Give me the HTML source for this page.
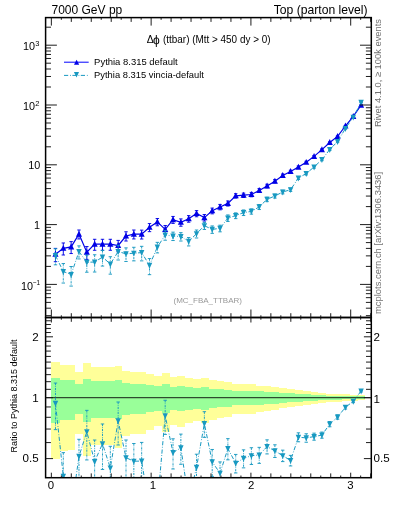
<!DOCTYPE html><html><head><meta charset="utf-8"><style>html,body{margin:0;padding:0;background:#fff;}svg{display:block;}text{font-family:"Liberation Sans",sans-serif;}</style></head><body>
<svg width="393" height="512" viewBox="0 0 393 512" style="will-change:transform">
<defs><clipPath id="cm"><rect x="45.60" y="17.60" width="325.70" height="299.90"/></clipPath>
<clipPath id="cr"><rect x="45.60" y="317.50" width="325.70" height="160.20"/></clipPath></defs>
<g clip-path="url(#cr)">
<path d="M51.35 362.00 L59.79 362.00 L59.79 364.80 L67.62 364.80 L67.62 365.00 L75.46 365.00 L75.46 371.90 L83.30 371.90 L83.30 363.00 L91.13 363.00 L91.13 367.10 L98.97 367.10 L98.97 367.10 L106.81 367.10 L106.81 367.10 L114.64 367.10 L114.64 366.10 L122.48 366.10 L122.48 371.20 L130.32 371.20 L130.32 372.00 L138.15 372.00 L138.15 372.10 L145.99 372.10 L145.99 374.10 L153.83 374.10 L153.83 376.20 L161.66 376.20 L161.66 373.00 L169.50 373.00 L169.50 376.90 L177.34 376.90 L177.34 376.00 L185.17 376.00 L185.17 378.00 L193.01 378.00 L193.01 379.10 L200.85 379.10 L200.85 378.00 L208.68 378.00 L208.68 380.20 L216.52 380.20 L216.52 381.20 L224.36 381.20 L224.36 382.10 L232.19 382.10 L232.19 384.10 L240.03 384.10 L240.03 384.10 L247.87 384.10 L247.87 384.10 L255.70 384.10 L255.70 385.50 L263.54 385.50 L263.54 386.20 L271.38 386.20 L271.38 386.90 L279.21 386.90 L279.21 388.20 L287.05 388.20 L287.05 389.30 L294.89 389.30 L294.89 390.30 L302.72 390.30 L302.72 391.00 L310.56 391.00 L310.56 391.90 L318.40 391.90 L318.40 393.00 L326.23 393.00 L326.23 393.50 L334.07 393.50 L334.07 394.00 L341.91 394.00 L341.91 394.40 L349.74 394.40 L349.74 394.80 L357.58 394.80 L357.58 395.20 L364.82 395.20 L364.82 400.27 L357.58 400.27 L357.58 400.70 L349.74 400.70 L349.74 401.13 L341.91 401.13 L341.91 401.56 L334.07 401.56 L334.07 402.11 L326.23 402.11 L326.23 402.67 L318.40 402.67 L318.40 403.91 L310.56 403.91 L310.56 404.95 L302.72 404.95 L302.72 405.78 L294.89 405.78 L294.89 406.99 L287.05 406.99 L287.05 408.35 L279.21 408.35 L279.21 410.02 L271.38 410.02 L271.38 410.94 L263.54 410.94 L263.54 411.87 L255.70 411.87 L255.70 413.80 L247.87 413.80 L247.87 413.80 L240.03 413.80 L240.03 413.80 L232.19 413.80 L232.19 416.68 L224.36 416.68 L224.36 418.03 L216.52 418.03 L216.52 419.58 L208.68 419.58 L208.68 423.13 L200.85 423.13 L200.85 421.33 L193.01 421.33 L193.01 423.13 L185.17 423.13 L185.17 426.58 L177.34 426.58 L177.34 425.00 L169.50 425.00 L169.50 432.18 L161.66 432.18 L161.66 426.23 L153.83 426.23 L153.83 430.07 L145.99 430.07 L145.99 433.98 L138.15 433.98 L138.15 434.18 L130.32 434.18 L130.32 435.83 L122.48 435.83 L122.48 447.53 L114.64 447.53 L114.64 445.05 L106.81 445.05 L106.81 445.05 L98.97 445.05 L98.97 445.05 L91.13 445.05 L91.13 455.89 L83.30 455.89 L83.30 434.38 L75.46 434.38 L75.46 450.37 L67.62 450.37 L67.62 450.90 L59.79 450.90 L59.79 458.83 L51.35 458.83 Z" fill="#ffff99" shape-rendering="crispEdges"/>
<path d="M51.35 378.05 L59.79 378.05 L59.79 379.72 L67.62 379.72 L67.62 379.84 L75.46 379.84 L75.46 383.86 L83.30 383.86 L83.30 378.65 L91.13 378.65 L91.13 381.07 L98.97 381.07 L98.97 381.07 L106.81 381.07 L106.81 381.07 L114.64 381.07 L114.64 380.49 L122.48 380.49 L122.48 383.45 L130.32 383.45 L130.32 383.91 L138.15 383.91 L138.15 383.97 L145.99 383.97 L145.99 385.11 L153.83 385.11 L153.83 386.29 L161.66 386.29 L161.66 384.48 L169.50 384.48 L169.50 386.69 L177.34 386.69 L177.34 386.18 L185.17 386.18 L185.17 387.30 L193.01 387.30 L193.01 387.91 L200.85 387.91 L200.85 387.30 L208.68 387.30 L208.68 388.51 L216.52 388.51 L216.52 389.06 L224.36 389.06 L224.36 389.55 L232.19 389.55 L232.19 390.64 L240.03 390.64 L240.03 390.64 L247.87 390.64 L247.87 390.64 L255.70 390.64 L255.70 391.39 L263.54 391.39 L263.54 391.76 L271.38 391.76 L271.38 392.13 L279.21 392.13 L279.21 392.82 L287.05 392.82 L287.05 393.40 L294.89 393.40 L294.89 393.92 L302.72 393.92 L302.72 394.29 L310.56 394.29 L310.56 394.75 L318.40 394.75 L318.40 395.32 L326.23 395.32 L326.23 395.57 L334.07 395.57 L334.07 395.83 L341.91 395.83 L341.91 396.03 L349.74 396.03 L349.74 396.24 L357.58 396.24 L357.58 396.44 L364.82 396.44 L364.82 398.98 L357.58 398.98 L357.58 399.19 L349.74 399.19 L349.74 399.40 L341.91 399.40 L341.91 399.61 L334.07 399.61 L334.07 399.88 L326.23 399.88 L326.23 400.15 L318.40 400.15 L318.40 400.75 L310.56 400.75 L310.56 401.25 L302.72 401.25 L302.72 401.65 L294.89 401.65 L294.89 402.22 L287.05 402.22 L287.05 402.87 L279.21 402.87 L279.21 403.64 L271.38 403.64 L271.38 404.07 L263.54 404.07 L263.54 404.50 L255.70 404.50 L255.70 405.38 L247.87 405.38 L247.87 405.38 L240.03 405.38 L240.03 405.38 L232.19 405.38 L232.19 406.68 L224.36 406.68 L224.36 407.28 L216.52 407.28 L216.52 407.96 L208.68 407.96 L208.68 409.50 L200.85 409.50 L200.85 408.72 L193.01 408.72 L193.01 409.50 L185.17 409.50 L185.17 410.96 L177.34 410.96 L177.34 410.30 L169.50 410.30 L169.50 413.26 L161.66 413.26 L161.66 410.81 L153.83 410.81 L153.83 412.40 L145.99 412.40 L145.99 413.98 L138.15 413.98 L138.15 414.06 L130.32 414.06 L130.32 414.71 L122.48 414.71 L122.48 419.13 L114.64 419.13 L114.64 418.22 L106.81 418.22 L106.81 418.22 L98.97 418.22 L98.97 418.22 L91.13 418.22 L91.13 422.06 L83.30 422.06 L83.30 414.14 L75.46 414.14 L75.46 420.15 L67.62 420.15 L67.62 420.33 L59.79 420.33 L59.79 423.05 L51.35 423.05 Z" fill="#99ff99" shape-rendering="crispEdges"/>
<line x1="45.60" y1="397.70" x2="371.30" y2="397.70" stroke="#000" stroke-opacity="0.7" stroke-width="1.3"/>
</g>
<g clip-path="url(#cr)">
<polyline points="55.47,403.30 63.31,476.30 71.14,511.30 78.98,456.40 86.82,431.70 94.65,461.50 102.49,443.80 110.33,468.00 118.16,420.90 126.00,457.70 133.84,461.20 141.67,461.10 149.51,510.20 157.35,505.20 165.18,415.70 173.02,452.60 180.86,447.90 188.69,500.20 196.53,467.40 204.37,423.60 212.20,461.90 220.04,473.20 227.88,448.60 235.71,463.20 243.55,458.40 251.39,455.70 259.22,455.00 267.06,446.60 274.90,450.90 282.73,455.70 290.57,460.50 298.41,437.20 306.24,437.90 314.08,436.60 321.92,435.10 329.75,424.10 337.59,417.00 345.43,407.30 353.26,401.30 361.10,391.10" fill="none" stroke="#1899c1" stroke-width="1.0" stroke-dasharray="4.2 1.9 0.8 1.5"/>
<line x1="55.47" y1="383.06" x2="55.47" y2="429.64" stroke="#1899c1" stroke-width="0.95" stroke-dasharray="2.2 1 0.7 1"/><line x1="53.77" y1="383.06" x2="57.17" y2="383.06" stroke="#1899c1" stroke-width="0.95"/><line x1="53.77" y1="429.64" x2="57.17" y2="429.64" stroke="#1899c1" stroke-width="0.95"/>
<path d="M55.47 406.70 L58.19 400.75 L52.75 400.75 Z" fill="#1899c1"/>
<line x1="63.31" y1="452.64" x2="63.31" y2="508.77" stroke="#1899c1" stroke-width="0.95" stroke-dasharray="2.2 1 0.7 1"/><line x1="61.61" y1="452.64" x2="65.01" y2="452.64" stroke="#1899c1" stroke-width="0.95"/><line x1="61.61" y1="508.77" x2="65.01" y2="508.77" stroke="#1899c1" stroke-width="0.95"/>
<path d="M63.31 479.70 L66.03 473.75 L60.59 473.75 Z" fill="#1899c1"/>
<line x1="71.14" y1="487.58" x2="71.14" y2="543.90" stroke="#1899c1" stroke-width="0.95" stroke-dasharray="2.2 1 0.7 1"/><line x1="69.44" y1="487.58" x2="72.84" y2="487.58" stroke="#1899c1" stroke-width="0.95"/><line x1="69.44" y1="543.90" x2="72.84" y2="543.90" stroke="#1899c1" stroke-width="0.95"/>
<path d="M71.14 514.70 L73.86 508.75 L68.42 508.75 Z" fill="#1899c1"/>
<line x1="78.98" y1="439.29" x2="78.98" y2="477.67" stroke="#1899c1" stroke-width="0.95" stroke-dasharray="2.2 1 0.7 1"/><line x1="77.28" y1="439.29" x2="80.68" y2="439.29" stroke="#1899c1" stroke-width="0.95"/><line x1="77.28" y1="477.67" x2="80.68" y2="477.67" stroke="#1899c1" stroke-width="0.95"/>
<path d="M78.98 459.80 L81.70 453.85 L76.26 453.85 Z" fill="#1899c1"/>
<line x1="86.82" y1="410.36" x2="86.82" y2="459.95" stroke="#1899c1" stroke-width="0.95" stroke-dasharray="2.2 1 0.7 1"/><line x1="85.12" y1="410.36" x2="88.52" y2="410.36" stroke="#1899c1" stroke-width="0.95"/><line x1="85.12" y1="459.95" x2="88.52" y2="459.95" stroke="#1899c1" stroke-width="0.95"/>
<path d="M86.82 435.10 L89.54 429.15 L84.10 429.15 Z" fill="#1899c1"/>
<line x1="94.65" y1="440.02" x2="94.65" y2="490.00" stroke="#1899c1" stroke-width="0.95" stroke-dasharray="2.2 1 0.7 1"/><line x1="92.95" y1="440.02" x2="96.35" y2="440.02" stroke="#1899c1" stroke-width="0.95"/><line x1="92.95" y1="490.00" x2="96.35" y2="490.00" stroke="#1899c1" stroke-width="0.95"/>
<path d="M94.65 464.90 L97.37 458.95 L91.93 458.95 Z" fill="#1899c1"/>
<line x1="102.49" y1="423.98" x2="102.49" y2="469.43" stroke="#1899c1" stroke-width="0.95" stroke-dasharray="2.2 1 0.7 1"/><line x1="100.79" y1="423.98" x2="104.19" y2="423.98" stroke="#1899c1" stroke-width="0.95"/><line x1="100.79" y1="469.43" x2="104.19" y2="469.43" stroke="#1899c1" stroke-width="0.95"/>
<path d="M102.49 447.20 L105.21 441.25 L99.77 441.25 Z" fill="#1899c1"/>
<line x1="110.33" y1="446.31" x2="110.33" y2="496.86" stroke="#1899c1" stroke-width="0.95" stroke-dasharray="2.2 1 0.7 1"/><line x1="108.63" y1="446.31" x2="112.03" y2="446.31" stroke="#1899c1" stroke-width="0.95"/><line x1="108.63" y1="496.86" x2="112.03" y2="496.86" stroke="#1899c1" stroke-width="0.95"/>
<path d="M110.33 471.40 L113.05 465.45 L107.61 465.45 Z" fill="#1899c1"/>
<line x1="118.16" y1="402.00" x2="118.16" y2="445.01" stroke="#1899c1" stroke-width="0.95" stroke-dasharray="2.2 1 0.7 1"/><line x1="116.46" y1="402.00" x2="119.86" y2="402.00" stroke="#1899c1" stroke-width="0.95"/><line x1="116.46" y1="445.01" x2="119.86" y2="445.01" stroke="#1899c1" stroke-width="0.95"/>
<path d="M118.16 424.30 L120.88 418.35 L115.44 418.35 Z" fill="#1899c1"/>
<line x1="126.00" y1="440.01" x2="126.00" y2="479.87" stroke="#1899c1" stroke-width="0.95" stroke-dasharray="2.2 1 0.7 1"/><line x1="124.30" y1="440.01" x2="127.70" y2="440.01" stroke="#1899c1" stroke-width="0.95"/><line x1="124.30" y1="479.87" x2="127.70" y2="479.87" stroke="#1899c1" stroke-width="0.95"/>
<path d="M126.00 461.10 L128.72 455.15 L123.28 455.15 Z" fill="#1899c1"/>
<line x1="133.84" y1="443.51" x2="133.84" y2="483.37" stroke="#1899c1" stroke-width="0.95" stroke-dasharray="2.2 1 0.7 1"/><line x1="132.14" y1="443.51" x2="135.54" y2="443.51" stroke="#1899c1" stroke-width="0.95"/><line x1="132.14" y1="483.37" x2="135.54" y2="483.37" stroke="#1899c1" stroke-width="0.95"/>
<path d="M133.84 464.60 L136.56 458.65 L131.12 458.65 Z" fill="#1899c1"/>
<line x1="141.67" y1="442.41" x2="141.67" y2="484.87" stroke="#1899c1" stroke-width="0.95" stroke-dasharray="2.2 1 0.7 1"/><line x1="139.97" y1="442.41" x2="143.37" y2="442.41" stroke="#1899c1" stroke-width="0.95"/><line x1="139.97" y1="484.87" x2="143.37" y2="484.87" stroke="#1899c1" stroke-width="0.95"/>
<path d="M141.67 464.50 L144.39 458.55 L138.95 458.55 Z" fill="#1899c1"/>
<line x1="149.51" y1="489.90" x2="149.51" y2="536.65" stroke="#1899c1" stroke-width="0.95" stroke-dasharray="2.2 1 0.7 1"/><line x1="147.81" y1="489.90" x2="151.21" y2="489.90" stroke="#1899c1" stroke-width="0.95"/><line x1="147.81" y1="536.65" x2="151.21" y2="536.65" stroke="#1899c1" stroke-width="0.95"/>
<path d="M149.51 513.60 L152.23 507.65 L146.79 507.65 Z" fill="#1899c1"/>
<line x1="157.35" y1="488.45" x2="157.35" y2="525.91" stroke="#1899c1" stroke-width="0.95" stroke-dasharray="2.2 1 0.7 1"/><line x1="155.65" y1="488.45" x2="159.05" y2="488.45" stroke="#1899c1" stroke-width="0.95"/><line x1="155.65" y1="525.91" x2="159.05" y2="525.91" stroke="#1899c1" stroke-width="0.95"/>
<path d="M157.35 508.60 L160.07 502.65 L154.63 502.65 Z" fill="#1899c1"/>
<line x1="165.18" y1="400.27" x2="165.18" y2="434.43" stroke="#1899c1" stroke-width="0.95" stroke-dasharray="2.2 1 0.7 1"/><line x1="163.48" y1="400.27" x2="166.88" y2="400.27" stroke="#1899c1" stroke-width="0.95"/><line x1="163.48" y1="434.43" x2="166.88" y2="434.43" stroke="#1899c1" stroke-width="0.95"/>
<path d="M165.18 419.10 L167.90 413.15 L162.46 413.15 Z" fill="#1899c1"/>
<line x1="173.02" y1="438.81" x2="173.02" y2="468.97" stroke="#1899c1" stroke-width="0.95" stroke-dasharray="2.2 1 0.7 1"/><line x1="171.32" y1="438.81" x2="174.72" y2="438.81" stroke="#1899c1" stroke-width="0.95"/><line x1="171.32" y1="468.97" x2="174.72" y2="468.97" stroke="#1899c1" stroke-width="0.95"/>
<path d="M173.02 456.00 L175.74 450.05 L170.30 450.05 Z" fill="#1899c1"/>
<line x1="180.86" y1="434.11" x2="180.86" y2="464.27" stroke="#1899c1" stroke-width="0.95" stroke-dasharray="2.2 1 0.7 1"/><line x1="179.16" y1="434.11" x2="182.56" y2="434.11" stroke="#1899c1" stroke-width="0.95"/><line x1="179.16" y1="464.27" x2="182.56" y2="464.27" stroke="#1899c1" stroke-width="0.95"/>
<path d="M180.86 451.30 L183.58 445.35 L178.14 445.35 Z" fill="#1899c1"/>
<line x1="188.69" y1="486.41" x2="188.69" y2="516.57" stroke="#1899c1" stroke-width="0.95" stroke-dasharray="2.2 1 0.7 1"/><line x1="186.99" y1="486.41" x2="190.39" y2="486.41" stroke="#1899c1" stroke-width="0.95"/><line x1="186.99" y1="516.57" x2="190.39" y2="516.57" stroke="#1899c1" stroke-width="0.95"/>
<path d="M188.69 503.60 L191.41 497.65 L185.97 497.65 Z" fill="#1899c1"/>
<line x1="196.53" y1="454.21" x2="196.53" y2="482.93" stroke="#1899c1" stroke-width="0.95" stroke-dasharray="2.2 1 0.7 1"/><line x1="194.83" y1="454.21" x2="198.23" y2="454.21" stroke="#1899c1" stroke-width="0.95"/><line x1="194.83" y1="482.93" x2="198.23" y2="482.93" stroke="#1899c1" stroke-width="0.95"/>
<path d="M196.53 470.80 L199.25 464.85 L193.81 464.85 Z" fill="#1899c1"/>
<line x1="204.37" y1="411.70" x2="204.37" y2="437.36" stroke="#1899c1" stroke-width="0.95" stroke-dasharray="2.2 1 0.7 1"/><line x1="202.67" y1="411.70" x2="206.07" y2="411.70" stroke="#1899c1" stroke-width="0.95"/><line x1="202.67" y1="437.36" x2="206.07" y2="437.36" stroke="#1899c1" stroke-width="0.95"/>
<path d="M204.37 427.00 L207.09 421.05 L201.65 421.05 Z" fill="#1899c1"/>
<line x1="212.20" y1="449.47" x2="212.20" y2="476.39" stroke="#1899c1" stroke-width="0.95" stroke-dasharray="2.2 1 0.7 1"/><line x1="210.50" y1="449.47" x2="213.90" y2="449.47" stroke="#1899c1" stroke-width="0.95"/><line x1="210.50" y1="476.39" x2="213.90" y2="476.39" stroke="#1899c1" stroke-width="0.95"/>
<path d="M212.20 465.30 L214.92 459.35 L209.48 459.35 Z" fill="#1899c1"/>
<line x1="220.04" y1="461.92" x2="220.04" y2="486.15" stroke="#1899c1" stroke-width="0.95" stroke-dasharray="2.2 1 0.7 1"/><line x1="218.34" y1="461.92" x2="221.74" y2="461.92" stroke="#1899c1" stroke-width="0.95"/><line x1="218.34" y1="486.15" x2="221.74" y2="486.15" stroke="#1899c1" stroke-width="0.95"/>
<path d="M220.04 476.60 L222.76 470.65 L217.32 470.65 Z" fill="#1899c1"/>
<line x1="227.88" y1="438.64" x2="227.88" y2="459.83" stroke="#1899c1" stroke-width="0.95" stroke-dasharray="2.2 1 0.7 1"/><line x1="226.18" y1="438.64" x2="229.58" y2="438.64" stroke="#1899c1" stroke-width="0.95"/><line x1="226.18" y1="459.83" x2="229.58" y2="459.83" stroke="#1899c1" stroke-width="0.95"/>
<path d="M227.88 452.00 L230.60 446.05 L225.16 446.05 Z" fill="#1899c1"/>
<line x1="235.71" y1="454.43" x2="235.71" y2="472.95" stroke="#1899c1" stroke-width="0.95" stroke-dasharray="2.2 1 0.7 1"/><line x1="234.01" y1="454.43" x2="237.41" y2="454.43" stroke="#1899c1" stroke-width="0.95"/><line x1="234.01" y1="472.95" x2="237.41" y2="472.95" stroke="#1899c1" stroke-width="0.95"/>
<path d="M235.71 466.60 L238.43 460.65 L232.99 460.65 Z" fill="#1899c1"/>
<line x1="243.55" y1="449.87" x2="243.55" y2="467.85" stroke="#1899c1" stroke-width="0.95" stroke-dasharray="2.2 1 0.7 1"/><line x1="241.85" y1="449.87" x2="245.25" y2="449.87" stroke="#1899c1" stroke-width="0.95"/><line x1="241.85" y1="467.85" x2="245.25" y2="467.85" stroke="#1899c1" stroke-width="0.95"/>
<path d="M243.55 461.80 L246.27 455.85 L240.83 455.85 Z" fill="#1899c1"/>
<line x1="251.39" y1="447.73" x2="251.39" y2="464.47" stroke="#1899c1" stroke-width="0.95" stroke-dasharray="2.2 1 0.7 1"/><line x1="249.69" y1="447.73" x2="253.09" y2="447.73" stroke="#1899c1" stroke-width="0.95"/><line x1="249.69" y1="464.47" x2="253.09" y2="464.47" stroke="#1899c1" stroke-width="0.95"/>
<path d="M251.39 459.10 L254.11 453.15 L248.67 453.15 Z" fill="#1899c1"/>
<line x1="259.22" y1="447.35" x2="259.22" y2="463.38" stroke="#1899c1" stroke-width="0.95" stroke-dasharray="2.2 1 0.7 1"/><line x1="257.52" y1="447.35" x2="260.92" y2="447.35" stroke="#1899c1" stroke-width="0.95"/><line x1="257.52" y1="463.38" x2="260.92" y2="463.38" stroke="#1899c1" stroke-width="0.95"/>
<path d="M259.22 458.40 L261.94 452.45 L256.50 452.45 Z" fill="#1899c1"/>
<line x1="267.06" y1="439.84" x2="267.06" y2="453.93" stroke="#1899c1" stroke-width="0.95" stroke-dasharray="2.2 1 0.7 1"/><line x1="265.36" y1="439.84" x2="268.76" y2="439.84" stroke="#1899c1" stroke-width="0.95"/><line x1="265.36" y1="453.93" x2="268.76" y2="453.93" stroke="#1899c1" stroke-width="0.95"/>
<path d="M267.06 450.00 L269.78 444.05 L264.34 444.05 Z" fill="#1899c1"/>
<line x1="274.90" y1="444.79" x2="274.90" y2="457.47" stroke="#1899c1" stroke-width="0.95" stroke-dasharray="2.2 1 0.7 1"/><line x1="273.20" y1="444.79" x2="276.60" y2="444.79" stroke="#1899c1" stroke-width="0.95"/><line x1="273.20" y1="457.47" x2="276.60" y2="457.47" stroke="#1899c1" stroke-width="0.95"/>
<path d="M274.90 454.30 L277.62 448.35 L272.18 448.35 Z" fill="#1899c1"/>
<line x1="282.73" y1="450.17" x2="282.73" y2="461.60" stroke="#1899c1" stroke-width="0.95" stroke-dasharray="2.2 1 0.7 1"/><line x1="281.03" y1="450.17" x2="284.43" y2="450.17" stroke="#1899c1" stroke-width="0.95"/><line x1="281.03" y1="461.60" x2="284.43" y2="461.60" stroke="#1899c1" stroke-width="0.95"/>
<path d="M282.73 459.10 L285.45 453.15 L280.01 453.15 Z" fill="#1899c1"/>
<line x1="290.57" y1="455.38" x2="290.57" y2="465.94" stroke="#1899c1" stroke-width="0.95" stroke-dasharray="2.2 1 0.7 1"/><line x1="288.87" y1="455.38" x2="292.27" y2="455.38" stroke="#1899c1" stroke-width="0.95"/><line x1="288.87" y1="465.94" x2="292.27" y2="465.94" stroke="#1899c1" stroke-width="0.95"/>
<path d="M290.57 463.90 L293.29 457.95 L287.85 457.95 Z" fill="#1899c1"/>
<line x1="298.41" y1="432.83" x2="298.41" y2="441.80" stroke="#1899c1" stroke-width="0.95" stroke-dasharray="2.2 1 0.7 1"/><line x1="296.71" y1="432.83" x2="300.11" y2="432.83" stroke="#1899c1" stroke-width="0.95"/><line x1="296.71" y1="441.80" x2="300.11" y2="441.80" stroke="#1899c1" stroke-width="0.95"/>
<path d="M298.41 440.60 L301.13 434.65 L295.69 434.65 Z" fill="#1899c1"/>
<line x1="306.24" y1="433.78" x2="306.24" y2="442.22" stroke="#1899c1" stroke-width="0.95" stroke-dasharray="2.2 1 0.7 1"/><line x1="304.54" y1="433.78" x2="307.94" y2="433.78" stroke="#1899c1" stroke-width="0.95"/><line x1="304.54" y1="442.22" x2="307.94" y2="442.22" stroke="#1899c1" stroke-width="0.95"/>
<path d="M306.24 441.30 L308.96 435.35 L303.52 435.35 Z" fill="#1899c1"/>
<line x1="314.08" y1="433.15" x2="314.08" y2="440.19" stroke="#1899c1" stroke-width="0.95" stroke-dasharray="2.2 1 0.7 1"/><line x1="312.38" y1="433.15" x2="315.78" y2="433.15" stroke="#1899c1" stroke-width="0.95"/><line x1="312.38" y1="440.19" x2="315.78" y2="440.19" stroke="#1899c1" stroke-width="0.95"/>
<path d="M314.08 440.00 L316.80 434.05 L311.36 434.05 Z" fill="#1899c1"/>
<line x1="321.92" y1="432.08" x2="321.92" y2="438.23" stroke="#1899c1" stroke-width="0.95" stroke-dasharray="2.2 1 0.7 1"/><line x1="320.22" y1="432.08" x2="323.62" y2="432.08" stroke="#1899c1" stroke-width="0.95"/><line x1="320.22" y1="438.23" x2="323.62" y2="438.23" stroke="#1899c1" stroke-width="0.95"/>
<path d="M321.92 438.50 L324.64 432.55 L319.20 432.55 Z" fill="#1899c1"/>
<line x1="329.75" y1="421.50" x2="329.75" y2="426.78" stroke="#1899c1" stroke-width="0.95" stroke-dasharray="2.2 1 0.7 1"/><line x1="328.05" y1="421.50" x2="331.45" y2="421.50" stroke="#1899c1" stroke-width="0.95"/><line x1="328.05" y1="426.78" x2="331.45" y2="426.78" stroke="#1899c1" stroke-width="0.95"/>
<path d="M329.75 427.50 L332.47 421.55 L327.03 421.55 Z" fill="#1899c1"/>
<line x1="337.59" y1="414.83" x2="337.59" y2="419.22" stroke="#1899c1" stroke-width="0.95" stroke-dasharray="2.2 1 0.7 1"/><line x1="335.89" y1="414.83" x2="339.29" y2="414.83" stroke="#1899c1" stroke-width="0.95"/><line x1="335.89" y1="419.22" x2="339.29" y2="419.22" stroke="#1899c1" stroke-width="0.95"/>
<path d="M337.59 420.40 L340.31 414.45 L334.87 414.45 Z" fill="#1899c1"/>
<line x1="345.43" y1="405.56" x2="345.43" y2="409.07" stroke="#1899c1" stroke-width="0.95" stroke-dasharray="2.2 1 0.7 1"/><line x1="343.73" y1="405.56" x2="347.13" y2="405.56" stroke="#1899c1" stroke-width="0.95"/><line x1="343.73" y1="409.07" x2="347.13" y2="409.07" stroke="#1899c1" stroke-width="0.95"/>
<path d="M345.43 410.70 L348.15 404.75 L342.71 404.75 Z" fill="#1899c1"/>
<line x1="353.26" y1="399.99" x2="353.26" y2="402.63" stroke="#1899c1" stroke-width="0.95" stroke-dasharray="2.2 1 0.7 1"/><line x1="351.56" y1="399.99" x2="354.96" y2="399.99" stroke="#1899c1" stroke-width="0.95"/><line x1="351.56" y1="402.63" x2="354.96" y2="402.63" stroke="#1899c1" stroke-width="0.95"/>
<path d="M353.26 404.70 L355.98 398.75 L350.54 398.75 Z" fill="#1899c1"/>
<line x1="361.10" y1="390.23" x2="361.10" y2="391.98" stroke="#1899c1" stroke-width="0.95" stroke-dasharray="2.2 1 0.7 1"/><line x1="359.40" y1="390.23" x2="362.80" y2="390.23" stroke="#1899c1" stroke-width="0.95"/><line x1="359.40" y1="391.98" x2="362.80" y2="391.98" stroke="#1899c1" stroke-width="0.95"/>
<path d="M361.10 394.50 L363.82 388.55 L358.38 388.55 Z" fill="#1899c1"/>
</g>
<g clip-path="url(#cm)">
<polyline points="55.47,254.20 63.31,248.30 71.14,246.90 78.98,234.10 86.82,252.20 94.65,244.20 102.49,244.20 110.33,244.20 118.16,245.50 126.00,236.00 133.84,234.10 141.67,234.20 149.51,227.30 157.35,221.90 165.18,229.40 173.02,219.70 180.86,222.30 188.69,218.70 196.53,213.50 204.37,217.60 212.20,210.80 220.04,207.00 227.88,203.40 235.71,195.80 243.55,195.20 251.39,194.50 259.22,190.50 267.06,186.00 274.90,181.20 282.73,175.50 290.57,171.50 298.41,167.10 306.24,162.30 314.08,156.40 321.92,149.60 329.75,142.50 337.59,136.40 345.43,126.00 353.26,116.40 361.10,105.20" fill="none" stroke="#0000e6" stroke-width="1.2"/>
<line x1="55.47" y1="248.39" x2="55.47" y2="261.69" stroke="#0000e6" stroke-width="0.95"/><line x1="53.77" y1="248.39" x2="57.17" y2="248.39" stroke="#0000e6" stroke-width="0.95"/><line x1="53.77" y1="261.69" x2="57.17" y2="261.69" stroke="#0000e6" stroke-width="0.95"/>
<path d="M55.47 250.80 L58.53 256.75 L52.41 256.75 Z" fill="#0000e6"/>
<line x1="63.31" y1="242.98" x2="63.31" y2="254.99" stroke="#0000e6" stroke-width="0.95"/><line x1="61.61" y1="242.98" x2="65.01" y2="242.98" stroke="#0000e6" stroke-width="0.95"/><line x1="61.61" y1="254.99" x2="65.01" y2="254.99" stroke="#0000e6" stroke-width="0.95"/>
<path d="M63.31 244.90 L66.37 250.85 L60.25 250.85 Z" fill="#0000e6"/>
<line x1="71.14" y1="241.62" x2="71.14" y2="253.54" stroke="#0000e6" stroke-width="0.95"/><line x1="69.44" y1="241.62" x2="72.84" y2="241.62" stroke="#0000e6" stroke-width="0.95"/><line x1="69.44" y1="253.54" x2="72.84" y2="253.54" stroke="#0000e6" stroke-width="0.95"/>
<path d="M71.14 243.50 L74.20 249.45 L68.08 249.45 Z" fill="#0000e6"/>
<line x1="78.98" y1="230.01" x2="78.98" y2="238.96" stroke="#0000e6" stroke-width="0.95"/><line x1="77.28" y1="230.01" x2="80.68" y2="230.01" stroke="#0000e6" stroke-width="0.95"/><line x1="77.28" y1="238.96" x2="80.68" y2="238.96" stroke="#0000e6" stroke-width="0.95"/>
<path d="M78.98 230.70 L82.04 236.65 L75.92 236.65 Z" fill="#0000e6"/>
<line x1="86.82" y1="246.57" x2="86.82" y2="259.40" stroke="#0000e6" stroke-width="0.95"/><line x1="85.12" y1="246.57" x2="88.52" y2="246.57" stroke="#0000e6" stroke-width="0.95"/><line x1="85.12" y1="259.40" x2="88.52" y2="259.40" stroke="#0000e6" stroke-width="0.95"/>
<path d="M86.82 248.80 L89.88 254.75 L83.76 254.75 Z" fill="#0000e6"/>
<line x1="94.65" y1="239.29" x2="94.65" y2="250.27" stroke="#0000e6" stroke-width="0.95"/><line x1="92.95" y1="239.29" x2="96.35" y2="239.29" stroke="#0000e6" stroke-width="0.95"/><line x1="92.95" y1="250.27" x2="96.35" y2="250.27" stroke="#0000e6" stroke-width="0.95"/>
<path d="M94.65 240.80 L97.71 246.75 L91.59 246.75 Z" fill="#0000e6"/>
<line x1="102.49" y1="239.29" x2="102.49" y2="250.27" stroke="#0000e6" stroke-width="0.95"/><line x1="100.79" y1="239.29" x2="104.19" y2="239.29" stroke="#0000e6" stroke-width="0.95"/><line x1="100.79" y1="250.27" x2="104.19" y2="250.27" stroke="#0000e6" stroke-width="0.95"/>
<path d="M102.49 240.80 L105.55 246.75 L99.43 246.75 Z" fill="#0000e6"/>
<line x1="110.33" y1="239.29" x2="110.33" y2="250.27" stroke="#0000e6" stroke-width="0.95"/><line x1="108.63" y1="239.29" x2="112.03" y2="239.29" stroke="#0000e6" stroke-width="0.95"/><line x1="108.63" y1="250.27" x2="112.03" y2="250.27" stroke="#0000e6" stroke-width="0.95"/>
<path d="M110.33 240.80 L113.39 246.75 L107.27 246.75 Z" fill="#0000e6"/>
<line x1="118.16" y1="240.41" x2="118.16" y2="251.83" stroke="#0000e6" stroke-width="0.95"/><line x1="116.46" y1="240.41" x2="119.86" y2="240.41" stroke="#0000e6" stroke-width="0.95"/><line x1="116.46" y1="251.83" x2="119.86" y2="251.83" stroke="#0000e6" stroke-width="0.95"/>
<path d="M118.16 242.10 L121.22 248.05 L115.10 248.05 Z" fill="#0000e6"/>
<line x1="126.00" y1="231.79" x2="126.00" y2="241.03" stroke="#0000e6" stroke-width="0.95"/><line x1="124.30" y1="231.79" x2="127.70" y2="231.79" stroke="#0000e6" stroke-width="0.95"/><line x1="124.30" y1="241.03" x2="127.70" y2="241.03" stroke="#0000e6" stroke-width="0.95"/>
<path d="M126.00 232.60 L129.06 238.55 L122.94 238.55 Z" fill="#0000e6"/>
<line x1="133.84" y1="230.02" x2="133.84" y2="238.94" stroke="#0000e6" stroke-width="0.95"/><line x1="132.14" y1="230.02" x2="135.54" y2="230.02" stroke="#0000e6" stroke-width="0.95"/><line x1="132.14" y1="238.94" x2="135.54" y2="238.94" stroke="#0000e6" stroke-width="0.95"/>
<path d="M133.84 230.70 L136.90 236.65 L130.78 236.65 Z" fill="#0000e6"/>
<line x1="141.67" y1="230.14" x2="141.67" y2="239.01" stroke="#0000e6" stroke-width="0.95"/><line x1="139.97" y1="230.14" x2="143.37" y2="230.14" stroke="#0000e6" stroke-width="0.95"/><line x1="139.97" y1="239.01" x2="143.37" y2="239.01" stroke="#0000e6" stroke-width="0.95"/>
<path d="M141.67 230.80 L144.73 236.75 L138.61 236.75 Z" fill="#0000e6"/>
<line x1="149.51" y1="223.58" x2="149.51" y2="231.65" stroke="#0000e6" stroke-width="0.95"/><line x1="147.81" y1="223.58" x2="151.21" y2="223.58" stroke="#0000e6" stroke-width="0.95"/><line x1="147.81" y1="231.65" x2="151.21" y2="231.65" stroke="#0000e6" stroke-width="0.95"/>
<path d="M149.51 223.90 L152.57 229.85 L146.45 229.85 Z" fill="#0000e6"/>
<line x1="157.35" y1="218.53" x2="157.35" y2="225.78" stroke="#0000e6" stroke-width="0.95"/><line x1="155.65" y1="218.53" x2="159.05" y2="218.53" stroke="#0000e6" stroke-width="0.95"/><line x1="155.65" y1="225.78" x2="159.05" y2="225.78" stroke="#0000e6" stroke-width="0.95"/>
<path d="M157.35 218.50 L160.41 224.45 L154.29 224.45 Z" fill="#0000e6"/>
<line x1="165.18" y1="225.49" x2="165.18" y2="234.00" stroke="#0000e6" stroke-width="0.95"/><line x1="163.48" y1="225.49" x2="166.88" y2="225.49" stroke="#0000e6" stroke-width="0.95"/><line x1="163.48" y1="234.00" x2="166.88" y2="234.00" stroke="#0000e6" stroke-width="0.95"/>
<path d="M165.18 226.00 L168.24 231.95 L162.12 231.95 Z" fill="#0000e6"/>
<line x1="173.02" y1="216.44" x2="173.02" y2="223.42" stroke="#0000e6" stroke-width="0.95"/><line x1="171.32" y1="216.44" x2="174.72" y2="216.44" stroke="#0000e6" stroke-width="0.95"/><line x1="171.32" y1="223.42" x2="174.72" y2="223.42" stroke="#0000e6" stroke-width="0.95"/>
<path d="M173.02 216.30 L176.08 222.25 L169.96 222.25 Z" fill="#0000e6"/>
<line x1="180.86" y1="218.90" x2="180.86" y2="226.22" stroke="#0000e6" stroke-width="0.95"/><line x1="179.16" y1="218.90" x2="182.56" y2="218.90" stroke="#0000e6" stroke-width="0.95"/><line x1="179.16" y1="226.22" x2="182.56" y2="226.22" stroke="#0000e6" stroke-width="0.95"/>
<path d="M180.86 218.90 L183.92 224.85 L177.80 224.85 Z" fill="#0000e6"/>
<line x1="188.69" y1="215.63" x2="188.69" y2="222.19" stroke="#0000e6" stroke-width="0.95"/><line x1="186.99" y1="215.63" x2="190.39" y2="215.63" stroke="#0000e6" stroke-width="0.95"/><line x1="186.99" y1="222.19" x2="190.39" y2="222.19" stroke="#0000e6" stroke-width="0.95"/>
<path d="M188.69 215.30 L191.75 221.25 L185.63 221.25 Z" fill="#0000e6"/>
<line x1="196.53" y1="210.61" x2="196.53" y2="216.76" stroke="#0000e6" stroke-width="0.95"/><line x1="194.83" y1="210.61" x2="198.23" y2="210.61" stroke="#0000e6" stroke-width="0.95"/><line x1="194.83" y1="216.76" x2="198.23" y2="216.76" stroke="#0000e6" stroke-width="0.95"/>
<path d="M196.53 210.10 L199.59 216.05 L193.47 216.05 Z" fill="#0000e6"/>
<line x1="204.37" y1="214.53" x2="204.37" y2="221.09" stroke="#0000e6" stroke-width="0.95"/><line x1="202.67" y1="214.53" x2="206.07" y2="214.53" stroke="#0000e6" stroke-width="0.95"/><line x1="202.67" y1="221.09" x2="206.07" y2="221.09" stroke="#0000e6" stroke-width="0.95"/>
<path d="M204.37 214.20 L207.43 220.15 L201.31 220.15 Z" fill="#0000e6"/>
<line x1="212.20" y1="208.08" x2="212.20" y2="213.83" stroke="#0000e6" stroke-width="0.95"/><line x1="210.50" y1="208.08" x2="213.90" y2="208.08" stroke="#0000e6" stroke-width="0.95"/><line x1="210.50" y1="213.83" x2="213.90" y2="213.83" stroke="#0000e6" stroke-width="0.95"/>
<path d="M212.20 207.40 L215.26 213.35 L209.14 213.35 Z" fill="#0000e6"/>
<line x1="220.04" y1="204.45" x2="220.04" y2="209.83" stroke="#0000e6" stroke-width="0.95"/><line x1="218.34" y1="204.45" x2="221.74" y2="204.45" stroke="#0000e6" stroke-width="0.95"/><line x1="218.34" y1="209.83" x2="221.74" y2="209.83" stroke="#0000e6" stroke-width="0.95"/>
<path d="M220.04 203.60 L223.10 209.55 L216.98 209.55 Z" fill="#0000e6"/>
<line x1="227.88" y1="200.99" x2="227.88" y2="206.05" stroke="#0000e6" stroke-width="0.95"/><line x1="226.18" y1="200.99" x2="229.58" y2="200.99" stroke="#0000e6" stroke-width="0.95"/><line x1="226.18" y1="206.05" x2="229.58" y2="206.05" stroke="#0000e6" stroke-width="0.95"/>
<path d="M227.88 200.00 L230.94 205.95 L224.82 205.95 Z" fill="#0000e6"/>
<line x1="235.71" y1="193.71" x2="235.71" y2="198.07" stroke="#0000e6" stroke-width="0.95"/><line x1="234.01" y1="193.71" x2="237.41" y2="193.71" stroke="#0000e6" stroke-width="0.95"/><line x1="234.01" y1="198.07" x2="237.41" y2="198.07" stroke="#0000e6" stroke-width="0.95"/>
<path d="M235.71 192.40 L238.77 198.35 L232.65 198.35 Z" fill="#0000e6"/>
<line x1="243.55" y1="193.11" x2="243.55" y2="197.47" stroke="#0000e6" stroke-width="0.95"/><line x1="241.85" y1="193.11" x2="245.25" y2="193.11" stroke="#0000e6" stroke-width="0.95"/><line x1="241.85" y1="197.47" x2="245.25" y2="197.47" stroke="#0000e6" stroke-width="0.95"/>
<path d="M243.55 191.80 L246.61 197.75 L240.49 197.75 Z" fill="#0000e6"/>
<line x1="251.39" y1="192.41" x2="251.39" y2="196.77" stroke="#0000e6" stroke-width="0.95"/><line x1="249.69" y1="192.41" x2="253.09" y2="192.41" stroke="#0000e6" stroke-width="0.95"/><line x1="249.69" y1="196.77" x2="253.09" y2="196.77" stroke="#0000e6" stroke-width="0.95"/>
<path d="M251.39 191.10 L254.45 197.05 L248.33 197.05 Z" fill="#0000e6"/>
<line x1="259.22" y1="188.63" x2="259.22" y2="192.51" stroke="#0000e6" stroke-width="0.95"/><line x1="257.52" y1="188.63" x2="260.92" y2="188.63" stroke="#0000e6" stroke-width="0.95"/><line x1="257.52" y1="192.51" x2="260.92" y2="192.51" stroke="#0000e6" stroke-width="0.95"/>
<path d="M259.22 187.10 L262.28 193.05 L256.16 193.05 Z" fill="#0000e6"/>
<line x1="267.06" y1="184.24" x2="267.06" y2="187.88" stroke="#0000e6" stroke-width="0.95"/><line x1="265.36" y1="184.24" x2="268.76" y2="184.24" stroke="#0000e6" stroke-width="0.95"/><line x1="265.36" y1="187.88" x2="268.76" y2="187.88" stroke="#0000e6" stroke-width="0.95"/>
<path d="M267.06 182.60 L270.12 188.55 L264.00 188.55 Z" fill="#0000e6"/>
<line x1="274.90" y1="179.55" x2="274.90" y2="182.96" stroke="#0000e6" stroke-width="0.95"/><line x1="273.20" y1="179.55" x2="276.60" y2="179.55" stroke="#0000e6" stroke-width="0.95"/><line x1="273.20" y1="182.96" x2="276.60" y2="182.96" stroke="#0000e6" stroke-width="0.95"/>
<path d="M274.90 177.80 L277.96 183.75 L271.84 183.75 Z" fill="#0000e6"/>
<line x1="282.73" y1="174.06" x2="282.73" y2="177.03" stroke="#0000e6" stroke-width="0.95"/><line x1="281.03" y1="174.06" x2="284.43" y2="174.06" stroke="#0000e6" stroke-width="0.95"/><line x1="281.03" y1="177.03" x2="284.43" y2="177.03" stroke="#0000e6" stroke-width="0.95"/>
<path d="M282.73 172.10 L285.79 178.05 L279.67 178.05 Z" fill="#0000e6"/>
<line x1="290.57" y1="170.23" x2="290.57" y2="172.84" stroke="#0000e6" stroke-width="0.95"/><line x1="288.87" y1="170.23" x2="292.27" y2="170.23" stroke="#0000e6" stroke-width="0.95"/><line x1="288.87" y1="172.84" x2="292.27" y2="172.84" stroke="#0000e6" stroke-width="0.95"/>
<path d="M290.57 168.10 L293.63 174.05 L287.51 174.05 Z" fill="#0000e6"/>
<line x1="298.41" y1="165.98" x2="298.41" y2="168.27" stroke="#0000e6" stroke-width="0.95"/><line x1="296.71" y1="165.98" x2="300.11" y2="165.98" stroke="#0000e6" stroke-width="0.95"/><line x1="296.71" y1="168.27" x2="300.11" y2="168.27" stroke="#0000e6" stroke-width="0.95"/>
<path d="M298.41 163.70 L301.47 169.65 L295.35 169.65 Z" fill="#0000e6"/>
<line x1="306.24" y1="161.29" x2="306.24" y2="163.35" stroke="#0000e6" stroke-width="0.95"/><line x1="304.54" y1="161.29" x2="307.94" y2="161.29" stroke="#0000e6" stroke-width="0.95"/><line x1="304.54" y1="163.35" x2="307.94" y2="163.35" stroke="#0000e6" stroke-width="0.95"/>
<path d="M306.24 158.90 L309.30 164.85 L303.18 164.85 Z" fill="#0000e6"/>
<line x1="314.08" y1="155.53" x2="314.08" y2="157.30" stroke="#0000e6" stroke-width="0.95"/><line x1="312.38" y1="155.53" x2="315.78" y2="155.53" stroke="#0000e6" stroke-width="0.95"/><line x1="312.38" y1="157.30" x2="315.78" y2="157.30" stroke="#0000e6" stroke-width="0.95"/>
<path d="M314.08 153.00 L317.14 158.95 L311.02 158.95 Z" fill="#0000e6"/>
<line x1="321.92" y1="148.90" x2="321.92" y2="150.32" stroke="#0000e6" stroke-width="0.95"/><line x1="320.22" y1="148.90" x2="323.62" y2="148.90" stroke="#0000e6" stroke-width="0.95"/><line x1="320.22" y1="150.32" x2="323.62" y2="150.32" stroke="#0000e6" stroke-width="0.95"/>
<path d="M321.92 146.20 L324.98 152.15 L318.86 152.15 Z" fill="#0000e6"/>
<line x1="329.75" y1="141.87" x2="329.75" y2="143.14" stroke="#0000e6" stroke-width="0.95"/><line x1="328.05" y1="141.87" x2="331.45" y2="141.87" stroke="#0000e6" stroke-width="0.95"/><line x1="328.05" y1="143.14" x2="331.45" y2="143.14" stroke="#0000e6" stroke-width="0.95"/>
<path d="M329.75 139.10 L332.81 145.05 L326.69 145.05 Z" fill="#0000e6"/>
<line x1="337.59" y1="135.85" x2="337.59" y2="136.96" stroke="#0000e6" stroke-width="0.95"/><line x1="335.89" y1="135.85" x2="339.29" y2="135.85" stroke="#0000e6" stroke-width="0.95"/><line x1="335.89" y1="136.96" x2="339.29" y2="136.96" stroke="#0000e6" stroke-width="0.95"/>
<path d="M337.59 133.00 L340.65 138.95 L334.53 138.95 Z" fill="#0000e6"/>
<line x1="345.43" y1="125.51" x2="345.43" y2="126.50" stroke="#0000e6" stroke-width="0.95"/><line x1="343.73" y1="125.51" x2="347.13" y2="125.51" stroke="#0000e6" stroke-width="0.95"/><line x1="343.73" y1="126.50" x2="347.13" y2="126.50" stroke="#0000e6" stroke-width="0.95"/>
<path d="M345.43 122.60 L348.49 128.55 L342.37 128.55 Z" fill="#0000e6"/>
<line x1="353.26" y1="115.97" x2="353.26" y2="116.84" stroke="#0000e6" stroke-width="0.95"/><line x1="351.56" y1="115.97" x2="354.96" y2="115.97" stroke="#0000e6" stroke-width="0.95"/><line x1="351.56" y1="116.84" x2="354.96" y2="116.84" stroke="#0000e6" stroke-width="0.95"/>
<path d="M353.26 113.00 L356.32 118.95 L350.20 118.95 Z" fill="#0000e6"/>
<line x1="361.10" y1="104.83" x2="361.10" y2="105.58" stroke="#0000e6" stroke-width="0.95"/><line x1="359.40" y1="104.83" x2="362.80" y2="104.83" stroke="#0000e6" stroke-width="0.95"/><line x1="359.40" y1="105.58" x2="362.80" y2="105.58" stroke="#0000e6" stroke-width="0.95"/>
<path d="M361.10 101.80 L364.16 107.75 L358.04 107.75 Z" fill="#0000e6"/>
<polyline points="55.47,255.60 63.31,271.50 71.14,274.50 78.98,251.60 86.82,262.30 94.65,262.00 102.49,257.10 110.33,264.00 118.16,251.60 126.00,253.80 133.84,253.20 141.67,252.60 149.51,265.40 157.35,247.10 165.18,235.00 173.02,236.00 180.86,236.50 188.69,241.40 196.53,233.70 204.37,225.70 212.20,229.40 220.04,228.30 227.88,218.00 235.71,215.60 243.55,212.60 251.39,211.40 259.22,206.90 267.06,199.30 274.90,196.00 282.73,192.00 290.57,189.70 298.41,178.00 306.24,173.50 314.08,167.00 321.92,159.60 329.75,149.50 337.59,141.50 345.43,128.50 353.26,117.20 361.10,102.40" fill="none" stroke="#1899c1" stroke-width="1.0" stroke-dasharray="4.2 1.9 0.8 1.5"/>
<line x1="55.47" y1="248.81" x2="55.47" y2="264.82" stroke="#1899c1" stroke-width="0.95" stroke-dasharray="2.2 1 0.7 1"/><line x1="53.77" y1="248.81" x2="57.17" y2="248.81" stroke="#1899c1" stroke-width="0.95"/><line x1="53.77" y1="264.82" x2="57.17" y2="264.82" stroke="#1899c1" stroke-width="0.95"/>
<path d="M55.47 259.00 L58.19 253.05 L52.75 253.05 Z" fill="#1899c1"/>
<line x1="63.31" y1="263.54" x2="63.31" y2="283.04" stroke="#1899c1" stroke-width="0.95" stroke-dasharray="2.2 1 0.7 1"/><line x1="61.61" y1="263.54" x2="65.01" y2="263.54" stroke="#1899c1" stroke-width="0.95"/><line x1="61.61" y1="283.04" x2="65.01" y2="283.04" stroke="#1899c1" stroke-width="0.95"/>
<path d="M63.31 274.90 L66.03 268.95 L60.59 268.95 Z" fill="#1899c1"/>
<line x1="71.14" y1="266.51" x2="71.14" y2="286.09" stroke="#1899c1" stroke-width="0.95" stroke-dasharray="2.2 1 0.7 1"/><line x1="69.44" y1="266.51" x2="72.84" y2="266.51" stroke="#1899c1" stroke-width="0.95"/><line x1="69.44" y1="286.09" x2="72.84" y2="286.09" stroke="#1899c1" stroke-width="0.95"/>
<path d="M71.14 277.90 L73.86 271.95 L68.42 271.95 Z" fill="#1899c1"/>
<line x1="78.98" y1="245.89" x2="78.98" y2="258.93" stroke="#1899c1" stroke-width="0.95" stroke-dasharray="2.2 1 0.7 1"/><line x1="77.28" y1="245.89" x2="80.68" y2="245.89" stroke="#1899c1" stroke-width="0.95"/><line x1="77.28" y1="258.93" x2="80.68" y2="258.93" stroke="#1899c1" stroke-width="0.95"/>
<path d="M78.98 255.00 L81.70 249.05 L76.26 249.05 Z" fill="#1899c1"/>
<line x1="86.82" y1="255.13" x2="86.82" y2="272.24" stroke="#1899c1" stroke-width="0.95" stroke-dasharray="2.2 1 0.7 1"/><line x1="85.12" y1="255.13" x2="88.52" y2="255.13" stroke="#1899c1" stroke-width="0.95"/><line x1="85.12" y1="272.24" x2="88.52" y2="272.24" stroke="#1899c1" stroke-width="0.95"/>
<path d="M86.82 265.70 L89.54 259.75 L84.10 259.75 Z" fill="#1899c1"/>
<line x1="94.65" y1="254.78" x2="94.65" y2="272.03" stroke="#1899c1" stroke-width="0.95" stroke-dasharray="2.2 1 0.7 1"/><line x1="92.95" y1="254.78" x2="96.35" y2="254.78" stroke="#1899c1" stroke-width="0.95"/><line x1="92.95" y1="272.03" x2="96.35" y2="272.03" stroke="#1899c1" stroke-width="0.95"/>
<path d="M94.65 265.40 L97.37 259.45 L91.93 259.45 Z" fill="#1899c1"/>
<line x1="102.49" y1="250.45" x2="102.49" y2="266.05" stroke="#1899c1" stroke-width="0.95" stroke-dasharray="2.2 1 0.7 1"/><line x1="100.79" y1="250.45" x2="104.19" y2="250.45" stroke="#1899c1" stroke-width="0.95"/><line x1="100.79" y1="266.05" x2="104.19" y2="266.05" stroke="#1899c1" stroke-width="0.95"/>
<path d="M102.49 260.50 L105.21 254.55 L99.77 254.55 Z" fill="#1899c1"/>
<line x1="110.33" y1="256.71" x2="110.33" y2="274.17" stroke="#1899c1" stroke-width="0.95" stroke-dasharray="2.2 1 0.7 1"/><line x1="108.63" y1="256.71" x2="112.03" y2="256.71" stroke="#1899c1" stroke-width="0.95"/><line x1="108.63" y1="274.17" x2="112.03" y2="274.17" stroke="#1899c1" stroke-width="0.95"/>
<path d="M110.33 267.40 L113.05 261.45 L107.61 261.45 Z" fill="#1899c1"/>
<line x1="118.16" y1="245.27" x2="118.16" y2="259.99" stroke="#1899c1" stroke-width="0.95" stroke-dasharray="2.2 1 0.7 1"/><line x1="116.46" y1="245.27" x2="119.86" y2="245.27" stroke="#1899c1" stroke-width="0.95"/><line x1="116.46" y1="259.99" x2="119.86" y2="259.99" stroke="#1899c1" stroke-width="0.95"/>
<path d="M118.16 255.00 L120.88 249.05 L115.44 249.05 Z" fill="#1899c1"/>
<line x1="126.00" y1="247.89" x2="126.00" y2="261.47" stroke="#1899c1" stroke-width="0.95" stroke-dasharray="2.2 1 0.7 1"/><line x1="124.30" y1="247.89" x2="127.70" y2="247.89" stroke="#1899c1" stroke-width="0.95"/><line x1="124.30" y1="261.47" x2="127.70" y2="261.47" stroke="#1899c1" stroke-width="0.95"/>
<path d="M126.00 257.20 L128.72 251.25 L123.28 251.25 Z" fill="#1899c1"/>
<line x1="133.84" y1="247.29" x2="133.84" y2="260.87" stroke="#1899c1" stroke-width="0.95" stroke-dasharray="2.2 1 0.7 1"/><line x1="132.14" y1="247.29" x2="135.54" y2="247.29" stroke="#1899c1" stroke-width="0.95"/><line x1="132.14" y1="260.87" x2="135.54" y2="260.87" stroke="#1899c1" stroke-width="0.95"/>
<path d="M133.84 256.60 L136.56 250.65 L131.12 250.65 Z" fill="#1899c1"/>
<line x1="141.67" y1="246.34" x2="141.67" y2="260.86" stroke="#1899c1" stroke-width="0.95" stroke-dasharray="2.2 1 0.7 1"/><line x1="139.97" y1="246.34" x2="143.37" y2="246.34" stroke="#1899c1" stroke-width="0.95"/><line x1="139.97" y1="260.86" x2="143.37" y2="260.86" stroke="#1899c1" stroke-width="0.95"/>
<path d="M141.67 256.00 L144.39 250.05 L138.95 250.05 Z" fill="#1899c1"/>
<line x1="149.51" y1="258.59" x2="149.51" y2="274.66" stroke="#1899c1" stroke-width="0.95" stroke-dasharray="2.2 1 0.7 1"/><line x1="147.81" y1="258.59" x2="151.21" y2="258.59" stroke="#1899c1" stroke-width="0.95"/><line x1="147.81" y1="274.66" x2="151.21" y2="274.66" stroke="#1899c1" stroke-width="0.95"/>
<path d="M149.51 268.80 L152.23 262.85 L146.79 262.85 Z" fill="#1899c1"/>
<line x1="157.35" y1="242.36" x2="157.35" y2="252.90" stroke="#1899c1" stroke-width="0.95" stroke-dasharray="2.2 1 0.7 1"/><line x1="155.65" y1="242.36" x2="159.05" y2="242.36" stroke="#1899c1" stroke-width="0.95"/><line x1="155.65" y1="252.90" x2="159.05" y2="252.90" stroke="#1899c1" stroke-width="0.95"/>
<path d="M157.35 250.50 L160.07 244.55 L154.63 244.55 Z" fill="#1899c1"/>
<line x1="165.18" y1="230.66" x2="165.18" y2="240.22" stroke="#1899c1" stroke-width="0.95" stroke-dasharray="2.2 1 0.7 1"/><line x1="163.48" y1="230.66" x2="166.88" y2="230.66" stroke="#1899c1" stroke-width="0.95"/><line x1="163.48" y1="240.22" x2="166.88" y2="240.22" stroke="#1899c1" stroke-width="0.95"/>
<path d="M165.18 238.40 L167.90 232.45 L162.46 232.45 Z" fill="#1899c1"/>
<line x1="173.02" y1="232.15" x2="173.02" y2="240.53" stroke="#1899c1" stroke-width="0.95" stroke-dasharray="2.2 1 0.7 1"/><line x1="171.32" y1="232.15" x2="174.72" y2="232.15" stroke="#1899c1" stroke-width="0.95"/><line x1="171.32" y1="240.53" x2="174.72" y2="240.53" stroke="#1899c1" stroke-width="0.95"/>
<path d="M173.02 239.40 L175.74 233.45 L170.30 233.45 Z" fill="#1899c1"/>
<line x1="180.86" y1="232.65" x2="180.86" y2="241.03" stroke="#1899c1" stroke-width="0.95" stroke-dasharray="2.2 1 0.7 1"/><line x1="179.16" y1="232.65" x2="182.56" y2="232.65" stroke="#1899c1" stroke-width="0.95"/><line x1="179.16" y1="241.03" x2="182.56" y2="241.03" stroke="#1899c1" stroke-width="0.95"/>
<path d="M180.86 239.90 L183.58 233.95 L178.14 233.95 Z" fill="#1899c1"/>
<line x1="188.69" y1="237.55" x2="188.69" y2="245.93" stroke="#1899c1" stroke-width="0.95" stroke-dasharray="2.2 1 0.7 1"/><line x1="186.99" y1="237.55" x2="190.39" y2="237.55" stroke="#1899c1" stroke-width="0.95"/><line x1="186.99" y1="245.93" x2="190.39" y2="245.93" stroke="#1899c1" stroke-width="0.95"/>
<path d="M188.69 244.80 L191.41 238.85 L185.97 238.85 Z" fill="#1899c1"/>
<line x1="196.53" y1="230.03" x2="196.53" y2="237.98" stroke="#1899c1" stroke-width="0.95" stroke-dasharray="2.2 1 0.7 1"/><line x1="194.83" y1="230.03" x2="198.23" y2="230.03" stroke="#1899c1" stroke-width="0.95"/><line x1="194.83" y1="237.98" x2="198.23" y2="237.98" stroke="#1899c1" stroke-width="0.95"/>
<path d="M196.53 237.10 L199.25 231.15 L193.81 231.15 Z" fill="#1899c1"/>
<line x1="204.37" y1="222.41" x2="204.37" y2="229.47" stroke="#1899c1" stroke-width="0.95" stroke-dasharray="2.2 1 0.7 1"/><line x1="202.67" y1="222.41" x2="206.07" y2="222.41" stroke="#1899c1" stroke-width="0.95"/><line x1="202.67" y1="229.47" x2="206.07" y2="229.47" stroke="#1899c1" stroke-width="0.95"/>
<path d="M204.37 229.10 L207.09 223.15 L201.65 223.15 Z" fill="#1899c1"/>
<line x1="212.20" y1="225.95" x2="212.20" y2="233.38" stroke="#1899c1" stroke-width="0.95" stroke-dasharray="2.2 1 0.7 1"/><line x1="210.50" y1="225.95" x2="213.90" y2="225.95" stroke="#1899c1" stroke-width="0.95"/><line x1="210.50" y1="233.38" x2="213.90" y2="233.38" stroke="#1899c1" stroke-width="0.95"/>
<path d="M212.20 232.80 L214.92 226.85 L209.48 226.85 Z" fill="#1899c1"/>
<line x1="220.04" y1="225.19" x2="220.04" y2="231.83" stroke="#1899c1" stroke-width="0.95" stroke-dasharray="2.2 1 0.7 1"/><line x1="218.34" y1="225.19" x2="221.74" y2="225.19" stroke="#1899c1" stroke-width="0.95"/><line x1="218.34" y1="231.83" x2="221.74" y2="231.83" stroke="#1899c1" stroke-width="0.95"/>
<path d="M220.04 231.70 L222.76 225.75 L217.32 225.75 Z" fill="#1899c1"/>
<line x1="227.88" y1="214.94" x2="227.88" y2="221.47" stroke="#1899c1" stroke-width="0.95" stroke-dasharray="2.2 1 0.7 1"/><line x1="226.18" y1="214.94" x2="229.58" y2="214.94" stroke="#1899c1" stroke-width="0.95"/><line x1="226.18" y1="221.47" x2="229.58" y2="221.47" stroke="#1899c1" stroke-width="0.95"/>
<path d="M227.88 221.40 L230.60 215.45 L225.16 215.45 Z" fill="#1899c1"/>
<line x1="235.71" y1="212.89" x2="235.71" y2="218.63" stroke="#1899c1" stroke-width="0.95" stroke-dasharray="2.2 1 0.7 1"/><line x1="234.01" y1="212.89" x2="237.41" y2="212.89" stroke="#1899c1" stroke-width="0.95"/><line x1="234.01" y1="218.63" x2="237.41" y2="218.63" stroke="#1899c1" stroke-width="0.95"/>
<path d="M235.71 219.00 L238.43 213.05 L232.99 213.05 Z" fill="#1899c1"/>
<line x1="243.55" y1="209.96" x2="243.55" y2="215.54" stroke="#1899c1" stroke-width="0.95" stroke-dasharray="2.2 1 0.7 1"/><line x1="241.85" y1="209.96" x2="245.25" y2="209.96" stroke="#1899c1" stroke-width="0.95"/><line x1="241.85" y1="215.54" x2="245.25" y2="215.54" stroke="#1899c1" stroke-width="0.95"/>
<path d="M243.55 216.00 L246.27 210.05 L240.83 210.05 Z" fill="#1899c1"/>
<line x1="251.39" y1="208.92" x2="251.39" y2="214.14" stroke="#1899c1" stroke-width="0.95" stroke-dasharray="2.2 1 0.7 1"/><line x1="249.69" y1="208.92" x2="253.09" y2="208.92" stroke="#1899c1" stroke-width="0.95"/><line x1="249.69" y1="214.14" x2="253.09" y2="214.14" stroke="#1899c1" stroke-width="0.95"/>
<path d="M251.39 214.80 L254.11 208.85 L248.67 208.85 Z" fill="#1899c1"/>
<line x1="259.22" y1="204.52" x2="259.22" y2="209.52" stroke="#1899c1" stroke-width="0.95" stroke-dasharray="2.2 1 0.7 1"/><line x1="257.52" y1="204.52" x2="260.92" y2="204.52" stroke="#1899c1" stroke-width="0.95"/><line x1="257.52" y1="209.52" x2="260.92" y2="209.52" stroke="#1899c1" stroke-width="0.95"/>
<path d="M259.22 210.30 L261.94 204.35 L256.50 204.35 Z" fill="#1899c1"/>
<line x1="267.06" y1="197.18" x2="267.06" y2="201.61" stroke="#1899c1" stroke-width="0.95" stroke-dasharray="2.2 1 0.7 1"/><line x1="265.36" y1="197.18" x2="268.76" y2="197.18" stroke="#1899c1" stroke-width="0.95"/><line x1="265.36" y1="201.61" x2="268.76" y2="201.61" stroke="#1899c1" stroke-width="0.95"/>
<path d="M267.06 202.70 L269.78 196.75 L264.34 196.75 Z" fill="#1899c1"/>
<line x1="274.90" y1="194.07" x2="274.90" y2="198.08" stroke="#1899c1" stroke-width="0.95" stroke-dasharray="2.2 1 0.7 1"/><line x1="273.20" y1="194.07" x2="276.60" y2="194.07" stroke="#1899c1" stroke-width="0.95"/><line x1="273.20" y1="198.08" x2="276.60" y2="198.08" stroke="#1899c1" stroke-width="0.95"/>
<path d="M274.90 199.40 L277.62 193.45 L272.18 193.45 Z" fill="#1899c1"/>
<line x1="282.73" y1="190.24" x2="282.73" y2="193.88" stroke="#1899c1" stroke-width="0.95" stroke-dasharray="2.2 1 0.7 1"/><line x1="281.03" y1="190.24" x2="284.43" y2="190.24" stroke="#1899c1" stroke-width="0.95"/><line x1="281.03" y1="193.88" x2="284.43" y2="193.88" stroke="#1899c1" stroke-width="0.95"/>
<path d="M282.73 195.40 L285.45 189.45 L280.01 189.45 Z" fill="#1899c1"/>
<line x1="290.57" y1="188.06" x2="290.57" y2="191.45" stroke="#1899c1" stroke-width="0.95" stroke-dasharray="2.2 1 0.7 1"/><line x1="288.87" y1="188.06" x2="292.27" y2="188.06" stroke="#1899c1" stroke-width="0.95"/><line x1="288.87" y1="191.45" x2="292.27" y2="191.45" stroke="#1899c1" stroke-width="0.95"/>
<path d="M290.57 193.10 L293.29 187.15 L287.85 187.15 Z" fill="#1899c1"/>
<line x1="298.41" y1="176.58" x2="298.41" y2="179.50" stroke="#1899c1" stroke-width="0.95" stroke-dasharray="2.2 1 0.7 1"/><line x1="296.71" y1="176.58" x2="300.11" y2="176.58" stroke="#1899c1" stroke-width="0.95"/><line x1="296.71" y1="179.50" x2="300.11" y2="179.50" stroke="#1899c1" stroke-width="0.95"/>
<path d="M298.41 181.40 L301.13 175.45 L295.69 175.45 Z" fill="#1899c1"/>
<line x1="306.24" y1="172.16" x2="306.24" y2="174.91" stroke="#1899c1" stroke-width="0.95" stroke-dasharray="2.2 1 0.7 1"/><line x1="304.54" y1="172.16" x2="307.94" y2="172.16" stroke="#1899c1" stroke-width="0.95"/><line x1="304.54" y1="174.91" x2="307.94" y2="174.91" stroke="#1899c1" stroke-width="0.95"/>
<path d="M306.24 176.90 L308.96 170.95 L303.52 170.95 Z" fill="#1899c1"/>
<line x1="314.08" y1="165.86" x2="314.08" y2="168.20" stroke="#1899c1" stroke-width="0.95" stroke-dasharray="2.2 1 0.7 1"/><line x1="312.38" y1="165.86" x2="315.78" y2="165.86" stroke="#1899c1" stroke-width="0.95"/><line x1="312.38" y1="168.20" x2="315.78" y2="168.20" stroke="#1899c1" stroke-width="0.95"/>
<path d="M314.08 170.40 L316.80 164.45 L311.36 164.45 Z" fill="#1899c1"/>
<line x1="321.92" y1="158.58" x2="321.92" y2="160.66" stroke="#1899c1" stroke-width="0.95" stroke-dasharray="2.2 1 0.7 1"/><line x1="320.22" y1="158.58" x2="323.62" y2="158.58" stroke="#1899c1" stroke-width="0.95"/><line x1="320.22" y1="160.66" x2="323.62" y2="160.66" stroke="#1899c1" stroke-width="0.95"/>
<path d="M321.92 163.00 L324.64 157.05 L319.20 157.05 Z" fill="#1899c1"/>
<line x1="329.75" y1="148.61" x2="329.75" y2="150.43" stroke="#1899c1" stroke-width="0.95" stroke-dasharray="2.2 1 0.7 1"/><line x1="328.05" y1="148.61" x2="331.45" y2="148.61" stroke="#1899c1" stroke-width="0.95"/><line x1="328.05" y1="150.43" x2="331.45" y2="150.43" stroke="#1899c1" stroke-width="0.95"/>
<path d="M329.75 152.90 L332.47 146.95 L327.03 146.95 Z" fill="#1899c1"/>
<line x1="337.59" y1="140.73" x2="337.59" y2="142.29" stroke="#1899c1" stroke-width="0.95" stroke-dasharray="2.2 1 0.7 1"/><line x1="335.89" y1="140.73" x2="339.29" y2="140.73" stroke="#1899c1" stroke-width="0.95"/><line x1="335.89" y1="142.29" x2="339.29" y2="142.29" stroke="#1899c1" stroke-width="0.95"/>
<path d="M337.59 144.90 L340.31 138.95 L334.87 138.95 Z" fill="#1899c1"/>
<line x1="345.43" y1="127.86" x2="345.43" y2="129.16" stroke="#1899c1" stroke-width="0.95" stroke-dasharray="2.2 1 0.7 1"/><line x1="343.73" y1="127.86" x2="347.13" y2="127.86" stroke="#1899c1" stroke-width="0.95"/><line x1="343.73" y1="129.16" x2="347.13" y2="129.16" stroke="#1899c1" stroke-width="0.95"/>
<path d="M345.43 131.90 L348.15 125.95 L342.71 125.95 Z" fill="#1899c1"/>
<line x1="353.26" y1="116.69" x2="353.26" y2="117.72" stroke="#1899c1" stroke-width="0.95" stroke-dasharray="2.2 1 0.7 1"/><line x1="351.56" y1="116.69" x2="354.96" y2="116.69" stroke="#1899c1" stroke-width="0.95"/><line x1="351.56" y1="117.72" x2="354.96" y2="117.72" stroke="#1899c1" stroke-width="0.95"/>
<path d="M353.26 120.60 L355.98 114.65 L350.54 114.65 Z" fill="#1899c1"/>
<line x1="361.10" y1="102.01" x2="361.10" y2="102.79" stroke="#1899c1" stroke-width="0.95" stroke-dasharray="2.2 1 0.7 1"/><line x1="359.40" y1="102.01" x2="362.80" y2="102.01" stroke="#1899c1" stroke-width="0.95"/><line x1="359.40" y1="102.79" x2="362.80" y2="102.79" stroke="#1899c1" stroke-width="0.95"/>
<path d="M361.10 105.80 L363.82 99.85 L358.38 99.85 Z" fill="#1899c1"/>
</g>
<g fill="none" stroke="#000" stroke-width="1.5">
<rect x="45.60" y="17.60" width="325.70" height="299.90"/>
<rect x="45.60" y="317.50" width="325.70" height="160.20"/>
</g>
<g stroke="#111" stroke-width="0.95">
<line x1="51.35" y1="17.60" x2="51.35" y2="25.60"/>
<line x1="51.35" y1="317.50" x2="51.35" y2="309.50"/>
<line x1="51.35" y1="317.50" x2="51.35" y2="322.50"/>
<line x1="51.35" y1="477.70" x2="51.35" y2="472.70"/>
<line x1="61.33" y1="17.60" x2="61.33" y2="19.80"/>
<line x1="61.33" y1="317.50" x2="61.33" y2="315.30"/>
<line x1="61.33" y1="317.50" x2="61.33" y2="319.70"/>
<line x1="61.33" y1="477.70" x2="61.33" y2="475.50"/>
<line x1="71.31" y1="17.60" x2="71.31" y2="21.90"/>
<line x1="71.31" y1="317.50" x2="71.31" y2="313.20"/>
<line x1="71.31" y1="317.50" x2="71.31" y2="321.80"/>
<line x1="71.31" y1="477.70" x2="71.31" y2="473.40"/>
<line x1="81.28" y1="17.60" x2="81.28" y2="19.80"/>
<line x1="81.28" y1="317.50" x2="81.28" y2="315.30"/>
<line x1="81.28" y1="317.50" x2="81.28" y2="319.70"/>
<line x1="81.28" y1="477.70" x2="81.28" y2="475.50"/>
<line x1="91.26" y1="17.60" x2="91.26" y2="21.90"/>
<line x1="91.26" y1="317.50" x2="91.26" y2="313.20"/>
<line x1="91.26" y1="317.50" x2="91.26" y2="321.80"/>
<line x1="91.26" y1="477.70" x2="91.26" y2="473.40"/>
<line x1="101.24" y1="17.60" x2="101.24" y2="19.80"/>
<line x1="101.24" y1="317.50" x2="101.24" y2="315.30"/>
<line x1="101.24" y1="317.50" x2="101.24" y2="319.70"/>
<line x1="101.24" y1="477.70" x2="101.24" y2="475.50"/>
<line x1="111.22" y1="17.60" x2="111.22" y2="21.90"/>
<line x1="111.22" y1="317.50" x2="111.22" y2="313.20"/>
<line x1="111.22" y1="317.50" x2="111.22" y2="321.80"/>
<line x1="111.22" y1="477.70" x2="111.22" y2="473.40"/>
<line x1="121.20" y1="17.60" x2="121.20" y2="19.80"/>
<line x1="121.20" y1="317.50" x2="121.20" y2="315.30"/>
<line x1="121.20" y1="317.50" x2="121.20" y2="319.70"/>
<line x1="121.20" y1="477.70" x2="121.20" y2="475.50"/>
<line x1="131.17" y1="17.60" x2="131.17" y2="21.90"/>
<line x1="131.17" y1="317.50" x2="131.17" y2="313.20"/>
<line x1="131.17" y1="317.50" x2="131.17" y2="321.80"/>
<line x1="131.17" y1="477.70" x2="131.17" y2="473.40"/>
<line x1="141.15" y1="17.60" x2="141.15" y2="19.80"/>
<line x1="141.15" y1="317.50" x2="141.15" y2="315.30"/>
<line x1="141.15" y1="317.50" x2="141.15" y2="319.70"/>
<line x1="141.15" y1="477.70" x2="141.15" y2="475.50"/>
<line x1="151.13" y1="17.60" x2="151.13" y2="25.60"/>
<line x1="151.13" y1="317.50" x2="151.13" y2="309.50"/>
<line x1="151.13" y1="317.50" x2="151.13" y2="322.50"/>
<line x1="151.13" y1="477.70" x2="151.13" y2="472.70"/>
<line x1="161.11" y1="17.60" x2="161.11" y2="19.80"/>
<line x1="161.11" y1="317.50" x2="161.11" y2="315.30"/>
<line x1="161.11" y1="317.50" x2="161.11" y2="319.70"/>
<line x1="161.11" y1="477.70" x2="161.11" y2="475.50"/>
<line x1="171.09" y1="17.60" x2="171.09" y2="21.90"/>
<line x1="171.09" y1="317.50" x2="171.09" y2="313.20"/>
<line x1="171.09" y1="317.50" x2="171.09" y2="321.80"/>
<line x1="171.09" y1="477.70" x2="171.09" y2="473.40"/>
<line x1="181.06" y1="17.60" x2="181.06" y2="19.80"/>
<line x1="181.06" y1="317.50" x2="181.06" y2="315.30"/>
<line x1="181.06" y1="317.50" x2="181.06" y2="319.70"/>
<line x1="181.06" y1="477.70" x2="181.06" y2="475.50"/>
<line x1="191.04" y1="17.60" x2="191.04" y2="21.90"/>
<line x1="191.04" y1="317.50" x2="191.04" y2="313.20"/>
<line x1="191.04" y1="317.50" x2="191.04" y2="321.80"/>
<line x1="191.04" y1="477.70" x2="191.04" y2="473.40"/>
<line x1="201.02" y1="17.60" x2="201.02" y2="19.80"/>
<line x1="201.02" y1="317.50" x2="201.02" y2="315.30"/>
<line x1="201.02" y1="317.50" x2="201.02" y2="319.70"/>
<line x1="201.02" y1="477.70" x2="201.02" y2="475.50"/>
<line x1="211.00" y1="17.60" x2="211.00" y2="21.90"/>
<line x1="211.00" y1="317.50" x2="211.00" y2="313.20"/>
<line x1="211.00" y1="317.50" x2="211.00" y2="321.80"/>
<line x1="211.00" y1="477.70" x2="211.00" y2="473.40"/>
<line x1="220.98" y1="17.60" x2="220.98" y2="19.80"/>
<line x1="220.98" y1="317.50" x2="220.98" y2="315.30"/>
<line x1="220.98" y1="317.50" x2="220.98" y2="319.70"/>
<line x1="220.98" y1="477.70" x2="220.98" y2="475.50"/>
<line x1="230.95" y1="17.60" x2="230.95" y2="21.90"/>
<line x1="230.95" y1="317.50" x2="230.95" y2="313.20"/>
<line x1="230.95" y1="317.50" x2="230.95" y2="321.80"/>
<line x1="230.95" y1="477.70" x2="230.95" y2="473.40"/>
<line x1="240.93" y1="17.60" x2="240.93" y2="19.80"/>
<line x1="240.93" y1="317.50" x2="240.93" y2="315.30"/>
<line x1="240.93" y1="317.50" x2="240.93" y2="319.70"/>
<line x1="240.93" y1="477.70" x2="240.93" y2="475.50"/>
<line x1="250.91" y1="17.60" x2="250.91" y2="25.60"/>
<line x1="250.91" y1="317.50" x2="250.91" y2="309.50"/>
<line x1="250.91" y1="317.50" x2="250.91" y2="322.50"/>
<line x1="250.91" y1="477.70" x2="250.91" y2="472.70"/>
<line x1="260.89" y1="17.60" x2="260.89" y2="19.80"/>
<line x1="260.89" y1="317.50" x2="260.89" y2="315.30"/>
<line x1="260.89" y1="317.50" x2="260.89" y2="319.70"/>
<line x1="260.89" y1="477.70" x2="260.89" y2="475.50"/>
<line x1="270.87" y1="17.60" x2="270.87" y2="21.90"/>
<line x1="270.87" y1="317.50" x2="270.87" y2="313.20"/>
<line x1="270.87" y1="317.50" x2="270.87" y2="321.80"/>
<line x1="270.87" y1="477.70" x2="270.87" y2="473.40"/>
<line x1="280.84" y1="17.60" x2="280.84" y2="19.80"/>
<line x1="280.84" y1="317.50" x2="280.84" y2="315.30"/>
<line x1="280.84" y1="317.50" x2="280.84" y2="319.70"/>
<line x1="280.84" y1="477.70" x2="280.84" y2="475.50"/>
<line x1="290.82" y1="17.60" x2="290.82" y2="21.90"/>
<line x1="290.82" y1="317.50" x2="290.82" y2="313.20"/>
<line x1="290.82" y1="317.50" x2="290.82" y2="321.80"/>
<line x1="290.82" y1="477.70" x2="290.82" y2="473.40"/>
<line x1="300.80" y1="17.60" x2="300.80" y2="19.80"/>
<line x1="300.80" y1="317.50" x2="300.80" y2="315.30"/>
<line x1="300.80" y1="317.50" x2="300.80" y2="319.70"/>
<line x1="300.80" y1="477.70" x2="300.80" y2="475.50"/>
<line x1="310.78" y1="17.60" x2="310.78" y2="21.90"/>
<line x1="310.78" y1="317.50" x2="310.78" y2="313.20"/>
<line x1="310.78" y1="317.50" x2="310.78" y2="321.80"/>
<line x1="310.78" y1="477.70" x2="310.78" y2="473.40"/>
<line x1="320.76" y1="17.60" x2="320.76" y2="19.80"/>
<line x1="320.76" y1="317.50" x2="320.76" y2="315.30"/>
<line x1="320.76" y1="317.50" x2="320.76" y2="319.70"/>
<line x1="320.76" y1="477.70" x2="320.76" y2="475.50"/>
<line x1="330.73" y1="17.60" x2="330.73" y2="21.90"/>
<line x1="330.73" y1="317.50" x2="330.73" y2="313.20"/>
<line x1="330.73" y1="317.50" x2="330.73" y2="321.80"/>
<line x1="330.73" y1="477.70" x2="330.73" y2="473.40"/>
<line x1="340.71" y1="17.60" x2="340.71" y2="19.80"/>
<line x1="340.71" y1="317.50" x2="340.71" y2="315.30"/>
<line x1="340.71" y1="317.50" x2="340.71" y2="319.70"/>
<line x1="340.71" y1="477.70" x2="340.71" y2="475.50"/>
<line x1="350.69" y1="17.60" x2="350.69" y2="25.60"/>
<line x1="350.69" y1="317.50" x2="350.69" y2="309.50"/>
<line x1="350.69" y1="317.50" x2="350.69" y2="322.50"/>
<line x1="350.69" y1="477.70" x2="350.69" y2="472.70"/>
<line x1="360.67" y1="17.60" x2="360.67" y2="19.80"/>
<line x1="360.67" y1="317.50" x2="360.67" y2="315.30"/>
<line x1="360.67" y1="317.50" x2="360.67" y2="319.70"/>
<line x1="360.67" y1="477.70" x2="360.67" y2="475.50"/>
<line x1="370.65" y1="17.60" x2="370.65" y2="21.90"/>
<line x1="370.65" y1="317.50" x2="370.65" y2="313.20"/>
<line x1="370.65" y1="317.50" x2="370.65" y2="321.80"/>
<line x1="370.65" y1="477.70" x2="370.65" y2="473.40"/>
<line x1="45.60" y1="315.67" x2="51.00" y2="315.67"/>
<line x1="371.30" y1="315.67" x2="365.90" y2="315.67"/>
<line x1="45.60" y1="308.20" x2="51.00" y2="308.20"/>
<line x1="371.30" y1="308.20" x2="365.90" y2="308.20"/>
<line x1="45.60" y1="302.40" x2="51.00" y2="302.40"/>
<line x1="371.30" y1="302.40" x2="365.90" y2="302.40"/>
<line x1="45.60" y1="297.67" x2="51.00" y2="297.67"/>
<line x1="371.30" y1="297.67" x2="365.90" y2="297.67"/>
<line x1="45.60" y1="293.66" x2="51.00" y2="293.66"/>
<line x1="371.30" y1="293.66" x2="365.90" y2="293.66"/>
<line x1="45.60" y1="290.20" x2="51.00" y2="290.20"/>
<line x1="371.30" y1="290.20" x2="365.90" y2="290.20"/>
<line x1="45.60" y1="287.14" x2="51.00" y2="287.14"/>
<line x1="371.30" y1="287.14" x2="365.90" y2="287.14"/>
<line x1="45.60" y1="284.40" x2="56.90" y2="284.40"/>
<line x1="371.30" y1="284.40" x2="360.00" y2="284.40"/>
<line x1="45.60" y1="266.40" x2="51.00" y2="266.40"/>
<line x1="371.30" y1="266.40" x2="365.90" y2="266.40"/>
<line x1="45.60" y1="255.87" x2="51.00" y2="255.87"/>
<line x1="371.30" y1="255.87" x2="365.90" y2="255.87"/>
<line x1="45.60" y1="248.40" x2="51.00" y2="248.40"/>
<line x1="371.30" y1="248.40" x2="365.90" y2="248.40"/>
<line x1="45.60" y1="242.60" x2="51.00" y2="242.60"/>
<line x1="371.30" y1="242.60" x2="365.90" y2="242.60"/>
<line x1="45.60" y1="237.87" x2="51.00" y2="237.87"/>
<line x1="371.30" y1="237.87" x2="365.90" y2="237.87"/>
<line x1="45.60" y1="233.86" x2="51.00" y2="233.86"/>
<line x1="371.30" y1="233.86" x2="365.90" y2="233.86"/>
<line x1="45.60" y1="230.40" x2="51.00" y2="230.40"/>
<line x1="371.30" y1="230.40" x2="365.90" y2="230.40"/>
<line x1="45.60" y1="227.34" x2="51.00" y2="227.34"/>
<line x1="371.30" y1="227.34" x2="365.90" y2="227.34"/>
<line x1="45.60" y1="224.60" x2="56.90" y2="224.60"/>
<line x1="371.30" y1="224.60" x2="360.00" y2="224.60"/>
<line x1="45.60" y1="206.60" x2="51.00" y2="206.60"/>
<line x1="371.30" y1="206.60" x2="365.90" y2="206.60"/>
<line x1="45.60" y1="196.07" x2="51.00" y2="196.07"/>
<line x1="371.30" y1="196.07" x2="365.90" y2="196.07"/>
<line x1="45.60" y1="188.60" x2="51.00" y2="188.60"/>
<line x1="371.30" y1="188.60" x2="365.90" y2="188.60"/>
<line x1="45.60" y1="182.80" x2="51.00" y2="182.80"/>
<line x1="371.30" y1="182.80" x2="365.90" y2="182.80"/>
<line x1="45.60" y1="178.07" x2="51.00" y2="178.07"/>
<line x1="371.30" y1="178.07" x2="365.90" y2="178.07"/>
<line x1="45.60" y1="174.06" x2="51.00" y2="174.06"/>
<line x1="371.30" y1="174.06" x2="365.90" y2="174.06"/>
<line x1="45.60" y1="170.60" x2="51.00" y2="170.60"/>
<line x1="371.30" y1="170.60" x2="365.90" y2="170.60"/>
<line x1="45.60" y1="167.54" x2="51.00" y2="167.54"/>
<line x1="371.30" y1="167.54" x2="365.90" y2="167.54"/>
<line x1="45.60" y1="164.80" x2="56.90" y2="164.80"/>
<line x1="371.30" y1="164.80" x2="360.00" y2="164.80"/>
<line x1="45.60" y1="146.80" x2="51.00" y2="146.80"/>
<line x1="371.30" y1="146.80" x2="365.90" y2="146.80"/>
<line x1="45.60" y1="136.27" x2="51.00" y2="136.27"/>
<line x1="371.30" y1="136.27" x2="365.90" y2="136.27"/>
<line x1="45.60" y1="128.80" x2="51.00" y2="128.80"/>
<line x1="371.30" y1="128.80" x2="365.90" y2="128.80"/>
<line x1="45.60" y1="123.00" x2="51.00" y2="123.00"/>
<line x1="371.30" y1="123.00" x2="365.90" y2="123.00"/>
<line x1="45.60" y1="118.27" x2="51.00" y2="118.27"/>
<line x1="371.30" y1="118.27" x2="365.90" y2="118.27"/>
<line x1="45.60" y1="114.26" x2="51.00" y2="114.26"/>
<line x1="371.30" y1="114.26" x2="365.90" y2="114.26"/>
<line x1="45.60" y1="110.80" x2="51.00" y2="110.80"/>
<line x1="371.30" y1="110.80" x2="365.90" y2="110.80"/>
<line x1="45.60" y1="107.74" x2="51.00" y2="107.74"/>
<line x1="371.30" y1="107.74" x2="365.90" y2="107.74"/>
<line x1="45.60" y1="105.00" x2="56.90" y2="105.00"/>
<line x1="371.30" y1="105.00" x2="360.00" y2="105.00"/>
<line x1="45.60" y1="87.00" x2="51.00" y2="87.00"/>
<line x1="371.30" y1="87.00" x2="365.90" y2="87.00"/>
<line x1="45.60" y1="76.47" x2="51.00" y2="76.47"/>
<line x1="371.30" y1="76.47" x2="365.90" y2="76.47"/>
<line x1="45.60" y1="69.00" x2="51.00" y2="69.00"/>
<line x1="371.30" y1="69.00" x2="365.90" y2="69.00"/>
<line x1="45.60" y1="63.20" x2="51.00" y2="63.20"/>
<line x1="371.30" y1="63.20" x2="365.90" y2="63.20"/>
<line x1="45.60" y1="58.47" x2="51.00" y2="58.47"/>
<line x1="371.30" y1="58.47" x2="365.90" y2="58.47"/>
<line x1="45.60" y1="54.46" x2="51.00" y2="54.46"/>
<line x1="371.30" y1="54.46" x2="365.90" y2="54.46"/>
<line x1="45.60" y1="51.00" x2="51.00" y2="51.00"/>
<line x1="371.30" y1="51.00" x2="365.90" y2="51.00"/>
<line x1="45.60" y1="47.94" x2="51.00" y2="47.94"/>
<line x1="371.30" y1="47.94" x2="365.90" y2="47.94"/>
<line x1="45.60" y1="45.20" x2="56.90" y2="45.20"/>
<line x1="371.30" y1="45.20" x2="360.00" y2="45.20"/>
<line x1="45.60" y1="27.20" x2="51.00" y2="27.20"/>
<line x1="371.30" y1="27.20" x2="365.90" y2="27.20"/>
<line x1="45.60" y1="458.60" x2="53.00" y2="458.60"/>
<line x1="371.30" y1="458.60" x2="363.90" y2="458.60"/>
<line x1="45.60" y1="442.58" x2="50.90" y2="442.58"/>
<line x1="371.30" y1="442.58" x2="366.00" y2="442.58"/>
<line x1="45.60" y1="429.04" x2="50.90" y2="429.04"/>
<line x1="371.30" y1="429.04" x2="366.00" y2="429.04"/>
<line x1="45.60" y1="417.30" x2="50.90" y2="417.30"/>
<line x1="371.30" y1="417.30" x2="366.00" y2="417.30"/>
<line x1="45.60" y1="406.96" x2="50.90" y2="406.96"/>
<line x1="371.30" y1="406.96" x2="366.00" y2="406.96"/>
<line x1="45.60" y1="397.70" x2="53.00" y2="397.70"/>
<line x1="371.30" y1="397.70" x2="363.90" y2="397.70"/>
<line x1="45.60" y1="389.33" x2="50.90" y2="389.33"/>
<line x1="371.30" y1="389.33" x2="366.00" y2="389.33"/>
<line x1="45.60" y1="381.68" x2="50.90" y2="381.68"/>
<line x1="371.30" y1="381.68" x2="366.00" y2="381.68"/>
<line x1="45.60" y1="374.65" x2="50.90" y2="374.65"/>
<line x1="371.30" y1="374.65" x2="366.00" y2="374.65"/>
<line x1="45.60" y1="368.14" x2="50.90" y2="368.14"/>
<line x1="371.30" y1="368.14" x2="366.00" y2="368.14"/>
<line x1="45.60" y1="362.08" x2="50.90" y2="362.08"/>
<line x1="371.30" y1="362.08" x2="366.00" y2="362.08"/>
<line x1="45.60" y1="356.41" x2="50.90" y2="356.41"/>
<line x1="371.30" y1="356.41" x2="366.00" y2="356.41"/>
<line x1="45.60" y1="351.08" x2="50.90" y2="351.08"/>
<line x1="371.30" y1="351.08" x2="366.00" y2="351.08"/>
<line x1="45.60" y1="346.06" x2="50.90" y2="346.06"/>
<line x1="371.30" y1="346.06" x2="366.00" y2="346.06"/>
<line x1="45.60" y1="341.31" x2="50.90" y2="341.31"/>
<line x1="371.30" y1="341.31" x2="366.00" y2="341.31"/>
<line x1="45.60" y1="336.80" x2="53.00" y2="336.80"/>
<line x1="371.30" y1="336.80" x2="363.90" y2="336.80"/>
<line x1="45.60" y1="332.52" x2="50.90" y2="332.52"/>
<line x1="371.30" y1="332.52" x2="366.00" y2="332.52"/>
<line x1="45.60" y1="328.43" x2="50.90" y2="328.43"/>
<line x1="371.30" y1="328.43" x2="366.00" y2="328.43"/>
<line x1="45.60" y1="324.52" x2="50.90" y2="324.52"/>
<line x1="371.30" y1="324.52" x2="366.00" y2="324.52"/>
<line x1="45.60" y1="320.78" x2="50.90" y2="320.78"/>
<line x1="371.30" y1="320.78" x2="366.00" y2="320.78"/>
</g>
<text x="51.5" y="14" font-size="12" fill="#000">7000 GeV pp</text>
<text x="367.6" y="14" font-size="12.15" fill="#000" text-anchor="end">Top (parton level)</text>
<text x="39.3" y="49.90" font-size="10.8" text-anchor="end" fill="#000">10<tspan font-size="7.5" dy="-3.9">3</tspan></text>
<text x="39.3" y="109.90" font-size="10.8" text-anchor="end" fill="#000">10<tspan font-size="7.5" dy="-3.9">2</tspan></text>
<text x="40.2" y="169.2" font-size="10.8" text-anchor="end" fill="#000">10</text>
<text x="40.0" y="229.0" font-size="10.8" text-anchor="end" fill="#000">1</text>
<text x="33.0" y="290.0" font-size="10.8" text-anchor="end" fill="#000">10</text>
<text x="32.7" y="285.2" font-size="7.2" textLength="7.3" lengthAdjust="spacingAndGlyphs" fill="#000">−1</text>
<text x="38.6" y="341.00" font-size="11.6" text-anchor="end" fill="#000">2</text>
<text x="373.6" y="340.80" font-size="11.6" fill="#000">2</text>
<text x="38.6" y="401.90" font-size="11.6" text-anchor="end" fill="#000">1</text>
<text x="373.6" y="402.80" font-size="11.6" fill="#000">1</text>
<text x="38.6" y="461.90" font-size="11.6" text-anchor="end" fill="#000">0.5</text>
<text x="373.6" y="462.10" font-size="11.6" fill="#000">0.5</text>
<text x="50.85" y="489.1" font-size="11.4" text-anchor="middle" fill="#000">0</text>
<text x="152.93" y="489.1" font-size="11.4" text-anchor="middle" fill="#000">1</text>
<text x="251.11" y="489.1" font-size="11.4" text-anchor="middle" fill="#000">2</text>
<text x="350.49" y="489.1" font-size="11.4" text-anchor="middle" fill="#000">3</text>
<text x="146.8" y="42.8" font-size="10.5" fill="#000">Δ</text>
<text x="153.1" y="43.7" font-size="12" fill="#000">ϕ</text>
<text x="163.0" y="43.3" font-size="10.5" textLength="107.5" lengthAdjust="spacingAndGlyphs" fill="#000">(ttbar) (Mtt &gt; 450 dy &gt; 0)</text>
<line x1="64" y1="62.2" x2="88.7" y2="62.2" stroke="#0000ff" stroke-width="1.0"/>
<path d="M76.60 59.70 L79.21 64.78 L73.99 64.78 Z" fill="#0000e6"/>
<text x="94.1" y="64.75" font-size="9.8" textLength="83.6" lengthAdjust="spacingAndGlyphs" fill="#000">Pythia 8.315 default</text>
<line x1="64" y1="75.4" x2="88.7" y2="75.4" stroke="#1899c1" stroke-width="1.0" stroke-dasharray="4.2 1.9 0.8 1.5"/>
<path d="M76.50 77.60 L79.06 72.00 L73.94 72.00 Z" fill="#1899c1"/>
<text x="94.1" y="77.8" font-size="9.8" textLength="109.8" lengthAdjust="spacingAndGlyphs" fill="#000">Pythia 8.315 vincia-default</text>
<text x="207.7" y="302.5" font-size="8" fill="#999" text-anchor="middle">(MC_FBA_TTBAR)</text>
<text transform="translate(381,19) rotate(-90)" font-size="9.36" fill="#707070" text-anchor="end">Rivet 4.1.0, ≥ 100k events</text>
<text transform="translate(381.2,171.8) rotate(-90)" font-size="9.42" fill="#707070" text-anchor="end">mcplots.cern.ch [arXiv:1306.3436]</text>
<text transform="translate(17.3,396) rotate(-90)" font-size="9" fill="#000" text-anchor="middle">Ratio to Pythia 8.315 default</text>
</svg></body></html>
